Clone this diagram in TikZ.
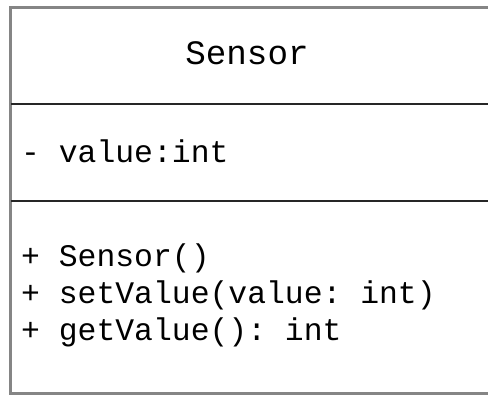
\documentclass[tikz,border=0pt]{standalone}
\usepackage{fontspec}
\setmonofont{Liberation Mono}
\definecolor{framegray}{HTML}{858585}
\definecolor{rulegray}{HTML}{262626}
\begin{document}
\begin{tikzpicture}[x=1pt,y=-1pt,
  titletext/.style={font=\ttfamily\fontsize{34.2}{40}\selectfont,anchor=base,inner sep=0pt},
  membertext/.style={font=\ttfamily\fontsize{31.4}{37}\selectfont,anchor=base west,inner sep=0pt}]
  \useasboundingbox (0,0) rectangle (488,396);
  \clip (0,0) rectangle (488,396);
  % Class frame
  \draw[framegray,line width=2.6pt] (500,7.5) -- (10.5,7.5) -- (10.5,393.5) -- (500,393.5);
  % Compartment rules
  \draw[rulegray,line width=1.6pt] (10.5,104.3) -- (500,104.3);
  \draw[rulegray,line width=1.6pt] (10.5,201) -- (500,201);
  % Class name
  \node[titletext] (name) at (247,65) {Sensor};
  % Attributes
  \node[membertext] (attr) at (21,163) {- value:int};
  % Operations
  \node[membertext] (ctor) at (21,266) {+ Sensor()};
  \node[membertext] (setter) at (21,303) {+ setValue(value: int)};
  \node[membertext] (getter) at (21,340) {+ getValue(): int};
\end{tikzpicture}
\end{document}
